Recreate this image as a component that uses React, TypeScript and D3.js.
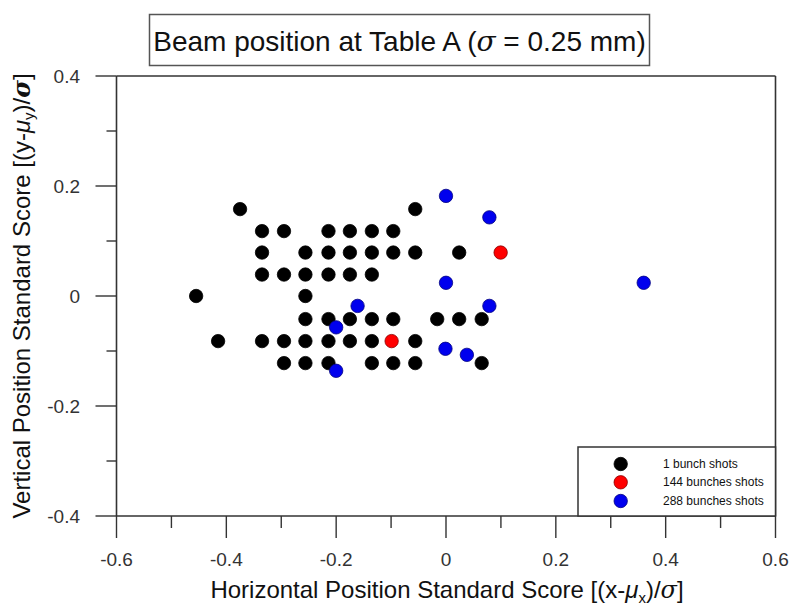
import React from 'react';
import * as d3 from 'd3';

const xTicksMajor = [-0.6, -0.4, -0.2, 0, 0.2, 0.4, 0.6];
const xTicksMinor = [-0.5, -0.3, -0.1, 0.1, 0.3, 0.5];
const yTicksMajor = [-0.4, -0.2, 0, 0.2, 0.4];
const yTicksMinor = [-0.3, -0.1, 0.1, 0.3];
const xTickLabels = ['-0.6', '-0.4', '-0.2', '0', '0.2', '0.4', '0.6'];
const yTickLabels = ['-0.4', '-0.2', '0', '0.2', '0.4'];

const seriesNames = ['1 bunch shots', '144 bunches shots', '288 bunches shots'];
const seriesColors = ['#000000', '#ff0000', '#0000ee'];

const oneBunchX = [
  -0.375, -0.056,
  -0.335, -0.295, -0.214, -0.175, -0.135, -0.096,
  -0.335, -0.256, -0.214, -0.175, -0.135, -0.096, -0.056, 0.024,
  -0.335, -0.295, -0.256, -0.214, -0.175, -0.135,
  -0.455, -0.256,
  -0.256, -0.214, -0.175, -0.135, -0.096, -0.016, 0.024, 0.065,
  -0.415, -0.335, -0.295, -0.256, -0.214, -0.175, -0.135, -0.056,
  -0.295, -0.256, -0.214, -0.135, -0.096, -0.056, 0.065,
];
const oneBunchY = [
  0.158, 0.158,
  0.118, 0.118, 0.118, 0.118, 0.118, 0.118,
  0.079, 0.079, 0.079, 0.079, 0.079, 0.079, 0.079, 0.079,
  0.039, 0.039, 0.039, 0.039, 0.039, 0.039,
  0.0, 0.0,
  -0.042, -0.042, -0.042, -0.042, -0.042, -0.042, -0.042, -0.042,
  -0.082, -0.082, -0.082, -0.082, -0.082, -0.082, -0.082, -0.082,
  -0.122, -0.122, -0.122, -0.122, -0.122, -0.122, -0.122,
];

const bunches144X = [0.0995, -0.099];
const bunches144Y = [0.079, -0.082];

const bunches288X = [0.0, 0.079, 0.0, 0.360, 0.079, -0.161, -0.200, -0.001, 0.038, -0.200];
const bunches288Y = [0.182, 0.143, 0.024, 0.024, -0.018, -0.018, -0.057, -0.096, -0.107, -0.136];

const W = 797;
const H = 605;
const font = 'Arial, "Liberation Sans", Helvetica, sans-serif';

export default function App() {
  const x = d3.scaleLinear().domain([-0.6, 0.6]).range([116.5, 775.5]);
  const y = d3.scaleLinear().domain([-0.4, 0.4]).range([516, 76]);
  const axisColor = '#333';
  const r = 6.7;

  const series = [
    { xs: oneBunchX, ys: oneBunchY, color: seriesColors[0], stroke: '#000' },
    { xs: bunches144X, ys: bunches144Y, color: seriesColors[1], stroke: '#800' },
    { xs: bunches288X, ys: bunches288Y, color: seriesColors[2], stroke: '#000080' },
  ];

  const legendX = 578;
  const legendY = 447;
  const legendRows = [464, 482.3, 501];

  return (
    <svg width={W} height={H} style={{ position: 'absolute', left: 0, top: 0, background: '#fff' }} fontFamily={font}>
      <rect x={0} y={0} width={W} height={H} fill="#fff" />
      {/* Title */}
      <rect x={149.5} y={14.5} width={500} height={51} fill="#fff" stroke="#555" strokeWidth={1.5} />
      <text x={399.5} y={51} textAnchor="middle" fontSize={28} fill="#111">
        Beam position at Table A (<tspan fontStyle="italic" fontFamily='"DejaVu Serif", serif'>σ</tspan> = 0.25 mm)
      </text>

      {/* frame */}
      <line x1={x(-0.6)} x2={x(0.6)} y1={y(0.4)} y2={y(0.4)} stroke={axisColor} strokeWidth={1.6} />
      <line x1={x(0.6)} x2={x(0.6)} y1={y(0.4)} y2={y(-0.4)} stroke={axisColor} strokeWidth={1.6} />
      <line x1={x(-0.6)} x2={x(0.6)} y1={y(-0.4)} y2={y(-0.4)} stroke={axisColor} strokeWidth={1.6} />
      <line x1={x(-0.6)} x2={x(-0.6)} y1={y(0.4)} y2={y(-0.4)} stroke={axisColor} strokeWidth={1.6} />

      {/* x ticks */}
      {xTicksMajor.map((t, i) => (
        <g key={'xm' + i}>
          <line x1={x(t)} x2={x(t)} y1={y(-0.4)} y2={y(-0.4) + 22} stroke={axisColor} strokeWidth={1.4} />
          <text x={x(t)} y={566} textAnchor="middle" fontSize={19} fill="#333">{xTickLabels[i]}</text>
        </g>
      ))}
      {xTicksMinor.map((t, i) => (
        <line key={'xn' + i} x1={x(t)} x2={x(t)} y1={y(-0.4)} y2={y(-0.4) + 12} stroke={axisColor} strokeWidth={1.4} />
      ))}

      {/* y ticks */}
      {yTicksMajor.map((t, i) => (
        <g key={'ym' + i}>
          <line x1={x(-0.6) - 21} x2={x(-0.6)} y1={y(t)} y2={y(t)} stroke={axisColor} strokeWidth={1.4} />
          <text x={80} y={y(t) + 7} textAnchor="end" fontSize={19} fill="#333">{yTickLabels[i]}</text>
        </g>
      ))}
      {yTicksMinor.map((t, i) => (
        <line key={'yn' + i} x1={x(-0.6) - 10} x2={x(-0.6)} y1={y(t)} y2={y(t)} stroke={axisColor} strokeWidth={1.4} />
      ))}

      {/* axis labels */}
      <text x={447} y={598} textAnchor="middle" fontSize={24} fill="#111">
        Horizontal Position Standard Score [(x-<tspan fontStyle="italic">μ</tspan><tspan fontSize={15} dy={5}>x</tspan><tspan dy={-5}>)/</tspan><tspan fontStyle="italic" fontFamily='"DejaVu Serif", serif'>σ</tspan>]
      </text>
      <text transform={`translate(30,296) rotate(-90)`} textAnchor="middle" fontSize={24} fill="#111">
        Vertical Position Standard Score [(y-<tspan fontStyle="italic">μ</tspan><tspan fontSize={15} dy={4}>y</tspan><tspan dy={-4}>)/</tspan><tspan fontStyle="italic" fontWeight="bold" fontFamily='"DejaVu Serif", serif'>σ</tspan>]
      </text>

      {/* points */}
      {series.map((s, si) => (
        <g key={'s' + si}>
          {s.xs.map((v, i) => (
            <circle key={i} cx={x(v)} cy={y(s.ys[i])} r={r} fill={s.color} stroke={s.stroke} strokeWidth={0.8} />
          ))}
        </g>
      ))}

      {/* legend */}
      <rect x={legendX} y={legendY} width={x(0.6) - legendX} height={y(-0.4) - legendY} fill="#fff" stroke={axisColor} strokeWidth={1.5} />
      {seriesNames.map((n, i) => (
        <g key={'lg' + i}>
          <circle cx={620.7} cy={legendRows[i]} r={r} fill={seriesColors[i]} stroke={series[i].stroke} strokeWidth={0.8} />
          <text x={663} y={legendRows[i] + 4} fontSize={12} fill="#111">{n}</text>
        </g>
      ))}
    </svg>
  );
}
